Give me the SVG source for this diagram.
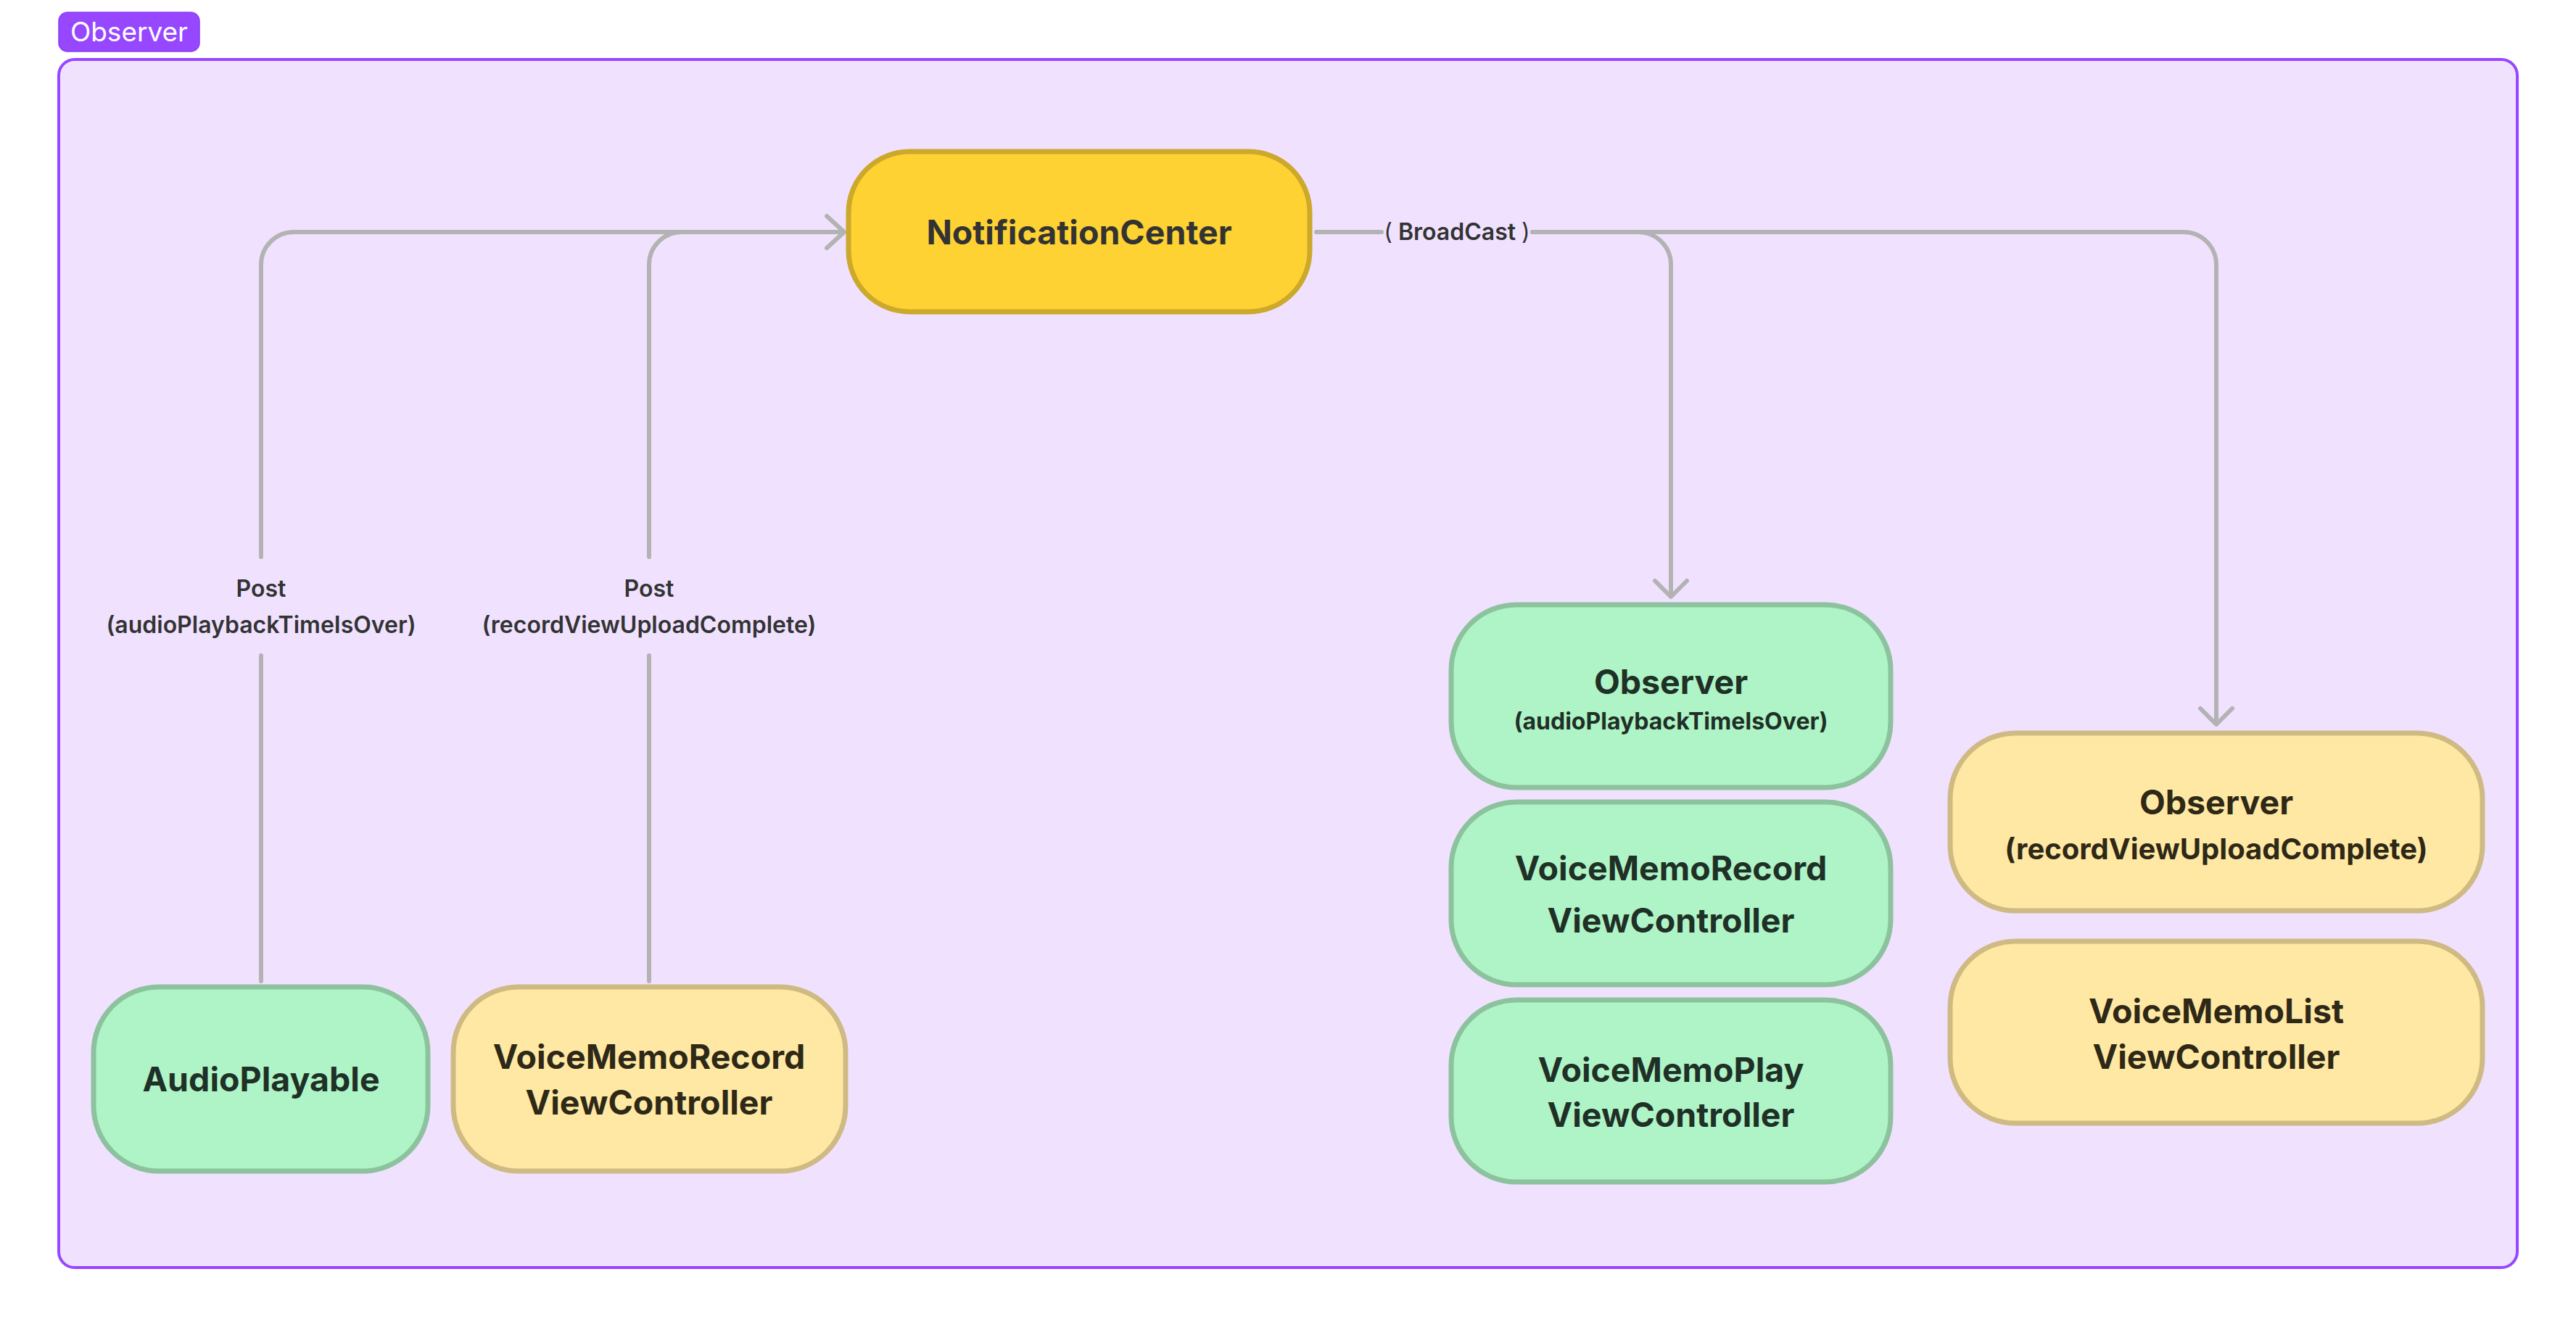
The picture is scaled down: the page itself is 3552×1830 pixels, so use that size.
<svg xmlns="http://www.w3.org/2000/svg" width="3552" height="1830" viewBox="0 0 3552 1830">
<defs>
<style>
.node-green rect{fill:#AFF4C6;stroke:#8DC29E;stroke-width:7}
.node-yellow rect{fill:#FFE8A3;stroke:#CFBA83;stroke-width:7}
.node-main rect{fill:#FFD233;stroke:#CCA82B;stroke-width:7}
.t{font-family:Inter,"Liberation Sans",sans-serif;font-weight:700;text-anchor:middle}
.title{font-size:46.5px}
.sub{font-size:32px}
.subl{font-size:40px}
.g{fill:#1F3027}
.y{fill:#2E2817}
.m{fill:#333333}
.lbl{font-family:Inter,"Liberation Sans",sans-serif;font-weight:600;font-size:32px;fill:#333333;text-anchor:middle}
.edge{fill:none;stroke:#B3B3B3;stroke-width:6;stroke-linecap:round;stroke-linejoin:round}
</style>
</defs>
<rect width="3552" height="1830" fill="#FFFFFF"/>
<g id="section">
<rect x="81" y="82" width="3390" height="1666" rx="22" fill="#F0E2FF" stroke="#9747FF" stroke-width="4"/>
<rect x="81" y="17" width="194" height="54" rx="12" fill="#9747FF" stroke="#8A3DEB" stroke-width="1.5"/>
<text x="178" y="57" font-family="Inter,'Liberation Sans',sans-serif" font-size="37" fill="#FFFFFF" text-anchor="middle">Observer</text>
</g>
<g id="connectors">
<path class="edge" d="M360 1353 V904 M360 768 V365 A45 45 0 0 1 405 320 H1163"/>
<path class="edge" d="M895 1353 V904 M895 768 V365 A45 45 0 0 1 940 320 H1163"/>
<polyline class="edge" points="1140,298 1164,320 1140,342"/>
<text class="lbl" x="360" y="823">Post</text>
<text class="lbl" x="360" y="873">(audioPlaybackTimeIsOver)</text>
<text class="lbl" x="895" y="823">Post</text>
<text class="lbl" x="895" y="873">(recordViewUploadComplete)</text>
<path class="edge" d="M1815 320 H1905 M2113 320 H2259 A45 45 0 0 1 2304 365 V822"/>
<polyline class="edge" points="2282,801 2304,823 2326,801"/>
<path class="edge" d="M2113 320 H3011 A45 45 0 0 1 3056 365 V998"/>
<polyline class="edge" points="3034,977 3056,999 3078,977"/>
<text class="lbl" x="2009" y="331"><tspan font-weight="400">(</tspan> BroadCast <tspan font-weight="400">)</tspan></text>
</g>
<g id="notificationCenter" class="node-main">
<rect x="1170" y="209" width="636" height="221" rx="84"/>
<text class="t title m" x="1488" y="337">NotificationCenter</text>
</g>
<g id="audioPlayable" class="node-green">
<rect x="129" y="1361" width="461" height="254" rx="90"/>
<text class="t title g" x="360" y="1505">AudioPlayable</text>
</g>
<g id="voiceMemoRecordPoster" class="node-yellow">
<rect x="625" y="1361" width="541" height="254" rx="90"/>
<text class="t title y" x="895" y="1474">VoiceMemoRecord</text>
<text class="t title y" x="895" y="1537">ViewController</text>
</g>
<g id="observerAudio" class="node-green">
<rect x="2001" y="834" width="606" height="252" rx="90"/>
<text class="t title g" x="2304" y="957">Observer</text>
<text class="t sub g" x="2304" y="1006">(audioPlaybackTimeIsOver)</text>
</g>
<g id="voiceMemoRecordObserver" class="node-green">
<rect x="2001" y="1106" width="606" height="252" rx="90"/>
<text class="t title g" x="2304" y="1214">VoiceMemoRecord</text>
<text class="t title g" x="2304" y="1286">ViewController</text>
</g>
<g id="voiceMemoPlay" class="node-green">
<rect x="2001" y="1379" width="606" height="251" rx="90"/>
<text class="t title g" x="2304" y="1492">VoiceMemoPlay</text>
<text class="t title g" x="2304" y="1554">ViewController</text>
</g>
<g id="observerUpload" class="node-yellow">
<rect x="2689" y="1011" width="734" height="245" rx="90"/>
<text class="t title y" x="3056" y="1123">Observer</text>
<text class="t subl y" x="3056" y="1185">(recordViewUploadComplete)</text>
</g>
<g id="voiceMemoList" class="node-yellow">
<rect x="2689" y="1298" width="734" height="251" rx="90"/>
<text class="t title y" x="3056" y="1411">VoiceMemoList</text>
<text class="t title y" x="3056" y="1474">ViewController</text>
</g>
</svg>
